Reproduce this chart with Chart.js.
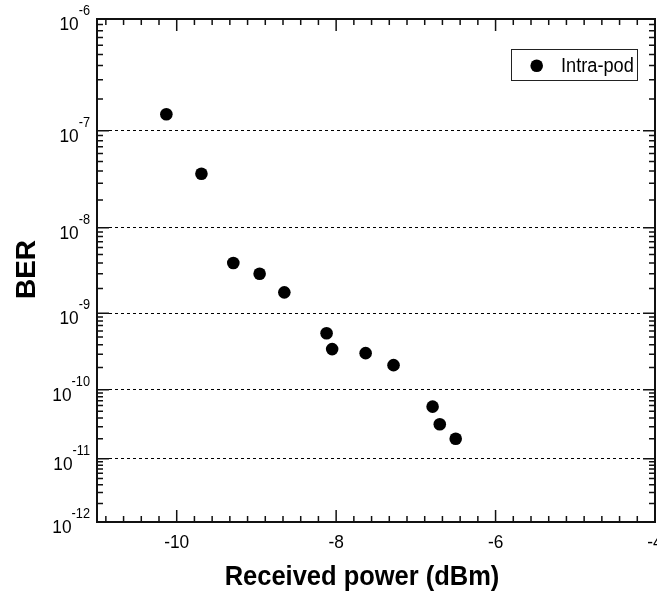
<!DOCTYPE html>
<html>
<head>
<meta charset="utf-8">
<script src="https://cdn.jsdelivr.net/npm/chart.js@4.4.0/dist/chart.umd.min.js"></script>
<style>
  html, body { margin: 0; padding: 0; background: #fff; }
  canvas { display: block; }
</style>
</head>
<body>
<canvas id="berChart" width="657" height="594"></canvas>
<script>
const seriesLabel = 'Intra-pod';
const receivedPower = [-10.13, -9.69, -9.29, -8.96, -8.65, -8.12, -8.05, -7.63, -7.28, -6.79, -6.70, -6.50];
const berValues = [1.44e-7, 3.75e-8, 4.0e-9, 3.0e-9, 1.8e-9, 5.6e-10, 3.5e-10, 3.1e-10, 2.15e-10, 5.8e-11, 3.25e-11, 2.0e-11];
const xTickValues = [-10, -8, -6, -4];
const berExponents = [6, 7, 8, 9, 10, 11, 12];
const xTitle = 'Received power (dBm)';
const yTitle = 'BER';

const FONT = '"Liberation Sans", Arial, sans-serif';
const SQUISH = 0.91;

// BER axis: linear in ln(-log10(BER))
function berTransform(v) {
  return -Math.log(-Math.log10(v));
}

class BerScale extends Chart.Scale {
  constructor(cfg) {
    super(cfg);
    this._startValue = undefined;
    this._valueRange = 0;
  }
  parse(raw) {
    const v = +raw;
    return isFinite(v) && v > 0 && v < 1 ? v : null;
  }
  determineDataLimits() {
    this.min = this.options.min;
    this.max = this.options.max;
  }
  buildTicks() {
    return berExponents.map((e) => ({ value: Math.pow(10, -e) }));
  }
  configure() {
    super.configure();
    this._startValue = berTransform(this.min);
    this._valueRange = berTransform(this.max) - this._startValue;
  }
  getPixelForValue(value) {
    return this.getPixelForDecimal(
      (berTransform(value) - this._startValue) / this._valueRange
    );
  }
  getValueForPixel(pixel) {
    const t = this._startValue + this.getDecimalForPixel(pixel) * this._valueRange;
    return Math.pow(10, -Math.exp(-t));
  }
}
BerScale.id = 'ber';
BerScale.defaults = {};
Chart.register(BerScale);

function squishText(ctx, text, x, y, align) {
  ctx.save();
  ctx.translate(x, y);
  ctx.scale(SQUISH, 1);
  ctx.textAlign = align;
  ctx.textBaseline = 'alphabetic';
  ctx.fillText(text, 0, 0);
  ctx.restore();
}

const framePlugin = {
  id: 'frame',
  afterDraw(chart) {
    const ctx = chart.ctx;
    const area = chart.chartArea;
    const xs = chart.scales.x;
    const ys = chart.scales.y;
    ctx.save();
    ctx.strokeStyle = '#111';
    ctx.fillStyle = '#000';

    // frame
    ctx.lineWidth = 2;
    ctx.strokeRect(area.left, area.top, area.right - area.left, area.bottom - area.top);

    // x ticks, bottom and top
    ctx.lineWidth = 1.5;
    const step = 2 / 9;
    for (let k = -4; k <= 27; k++) {
      const v = -10 + k * step;
      if (v < xs.min - 1e-9 || v > xs.max + 1e-9) continue;
      const px = xs.getPixelForValue(v);
      const len = k % 9 === 0 ? 12 : 6;
      ctx.beginPath();
      ctx.moveTo(px, area.bottom);
      ctx.lineTo(px, area.bottom - len);
      ctx.moveTo(px, area.top);
      ctx.lineTo(px, area.top + len);
      ctx.stroke();
    }

    // y ticks, left and right
    berExponents.forEach((e) => {
      for (let m = 1; m <= 9; m++) {
        const v = m * Math.pow(10, -e);
        if (v > ys.max * 1.0001 || v < ys.min * 0.9999) continue;
        const py = ys.getPixelForValue(v);
        const len = m === 1 ? 12 : 6;
        ctx.beginPath();
        ctx.moveTo(area.left, py);
        ctx.lineTo(area.left + len, py);
        ctx.moveTo(area.right, py);
        ctx.lineTo(area.right - len, py);
        ctx.stroke();
      }
    });

    // x tick labels
    ctx.font = '19px ' + FONT;
    xTickValues.forEach((v) => {
      squishText(ctx, String(v), xs.getPixelForValue(v), 548, 'center');
    });

    // y tick labels, 10 with superscript exponent
    berExponents.forEach((e) => {
      const py = ys.getPixelForValue(Math.pow(10, -e));
      const sup = '-' + e;
      ctx.font = '14px ' + FONT;
      const w = ctx.measureText(sup).width * SQUISH;
      squishText(ctx, sup, 90, py - 4, 'right');
      ctx.font = '19px ' + FONT;
      squishText(ctx, '10', 90 - w, py + 11, 'right');
    });

    // axis titles
    ctx.font = 'bold 28px ' + FONT;
    squishText(ctx, xTitle, (area.left + area.right) / 2 - 14, 585, 'center');
    ctx.save();
    ctx.translate(35, (area.top + area.bottom) / 2 - 1);
    ctx.rotate(-Math.PI / 2);
    ctx.textAlign = 'center';
    ctx.fillText(yTitle, 0, 0);
    ctx.restore();

    // legend box
    ctx.lineWidth = 1;
    ctx.strokeStyle = '#222';
    ctx.strokeRect(511.5, 49.5, 126, 31);
    ctx.beginPath();
    ctx.arc(536.7, 65.7, 6.3, 0, Math.PI * 2);
    ctx.fill();
    ctx.font = '20px ' + FONT;
    squishText(ctx, chart.data.datasets[0].label, 561, 71.5, 'left');

    ctx.restore();
  },
};

new Chart(document.getElementById('berChart'), {
  type: 'scatter',
  data: {
    datasets: [
      {
        label: seriesLabel,
        data: receivedPower.map((p, i) => ({ x: p, y: berValues[i] })),
        backgroundColor: '#000',
        borderColor: '#000',
        pointRadius: 6.3,
        pointHoverRadius: 6.3,
        borderWidth: 0,
      },
    ],
  },
  options: {
    responsive: false,
    animation: false,
    layout: {
      autoPadding: false,
      padding: { left: 97, right: 2, top: 19, bottom: 72 },
    },
    plugins: {
      legend: { display: false },
      tooltip: { enabled: false },
    },
    scales: {
      x: {
        type: 'linear',
        min: -11,
        max: -4,
        ticks: { display: false },
        grid: { display: false, drawTicks: false },
        border: { display: false },
      },
      y: {
        type: 'ber',
        min: 1e-12,
        max: 1e-6,
        ticks: { display: false },
        grid: {
          drawTicks: false,
          color: (c) =>
            c.index === 0 || c.index === berExponents.length - 1 ? 'rgba(0,0,0,0)' : '#000',
          lineWidth: 1,
        },
        border: { display: false, dash: [3, 3] },
      },
    },
  },
  plugins: [framePlugin],
});
</script>
</body>
</html>
